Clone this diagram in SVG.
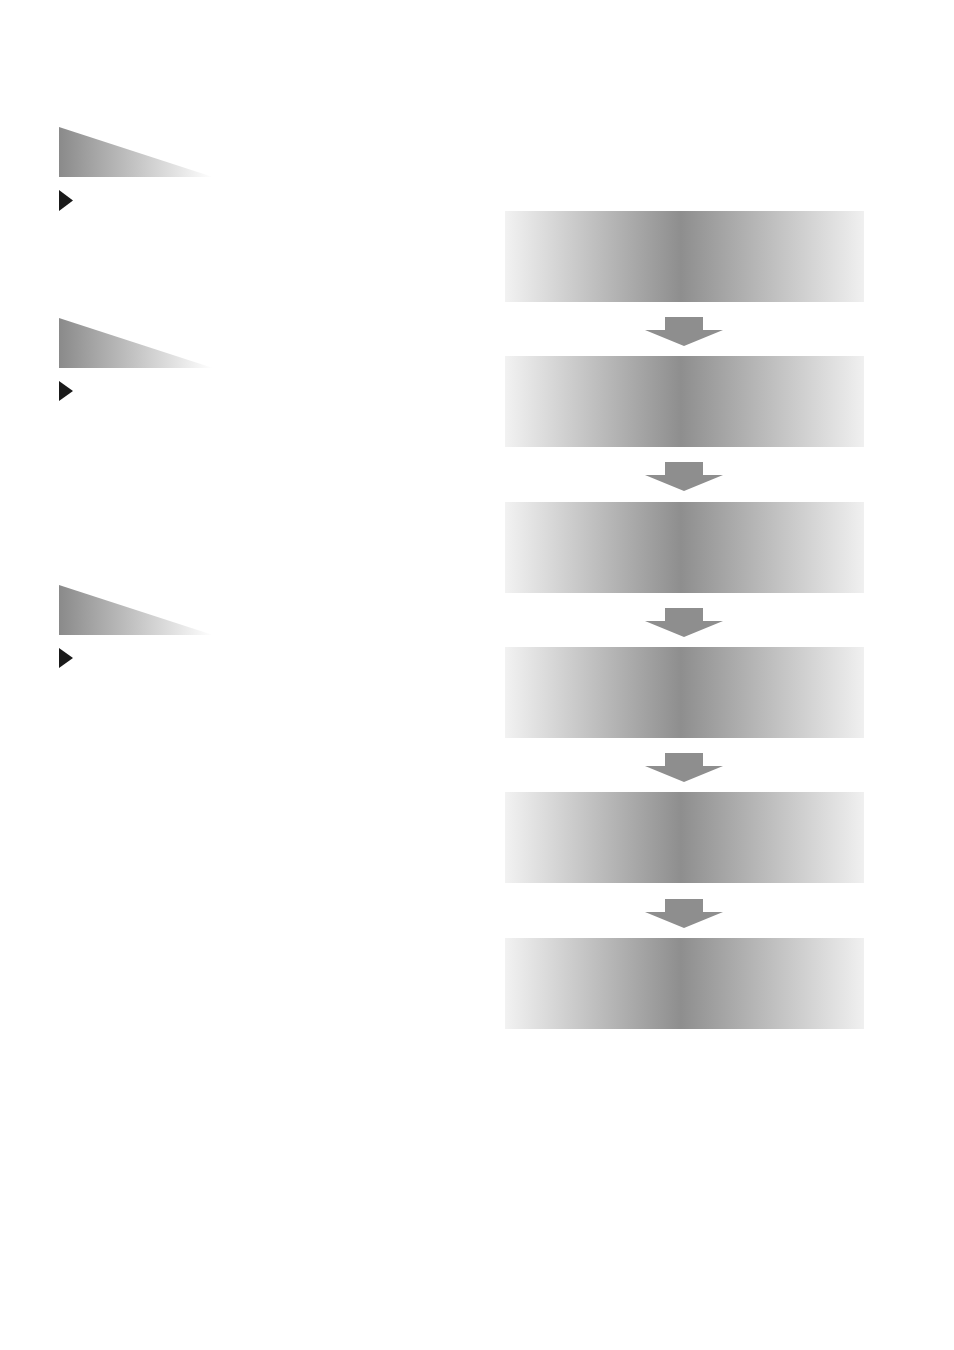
<svg xmlns="http://www.w3.org/2000/svg" width="954" height="1350" viewBox="0 0 954 1350">
<defs>
<linearGradient id="hdr" x1="0" y1="0" x2="1" y2="0">
<stop offset="0" stop-color="#8a8a8a"/>
<stop offset="1" stop-color="#ffffff"/>
</linearGradient>
<linearGradient id="box" x1="0" y1="0" x2="1" y2="0">
<stop offset="0" stop-color="#f2f2f2"/>
<stop offset="0.49" stop-color="#8e8e8e"/>
<stop offset="1" stop-color="#f0f0f0"/>
</linearGradient>
<g id="arrowShape"><path d="M665 0 H703 V13 H723 L684 29 L645 13 H665 Z" fill="#8e8e8e"/></g>
</defs>
<style>
.hdr{fill:url(#hdr)}
.box{fill:url(#box)}
.bul{fill:#1a1a1a}
</style>
<rect width="954" height="1350" fill="#ffffff"/>
<g id="header1"><path class="hdr" d="M59 127 L213 177 L59 177 Z"/></g>
<g id="bullet1"><path class="bul" d="M59 190 L73 200.5 L59 211 Z"/></g>
<g id="header2"><path class="hdr" d="M59 318 L213 368 L59 368 Z"/></g>
<g id="bullet2"><path class="bul" d="M59 381 L73 391 L59 401 Z"/></g>
<g id="header3"><path class="hdr" d="M59 585 L213 635 L59 635 Z"/></g>
<g id="bullet3"><path class="bul" d="M59 648 L73 658 L59 668 Z"/></g>
<g id="box1"><rect class="box" x="505" y="211" width="359" height="91"/></g>
<g id="box2"><rect class="box" x="505" y="356" width="359" height="91"/></g>
<g id="box3"><rect class="box" x="505" y="502" width="359" height="91"/></g>
<g id="box4"><rect class="box" x="505" y="647" width="359" height="91"/></g>
<g id="box5"><rect class="box" x="505" y="792" width="359" height="91"/></g>
<g id="box6"><rect class="box" x="505" y="938" width="359" height="91"/></g>
<g id="connectors">
<use href="#arrowShape" y="317"/>
<use href="#arrowShape" y="462"/>
<use href="#arrowShape" y="608"/>
<use href="#arrowShape" y="753"/>
<use href="#arrowShape" y="899"/>
</g>
</svg>
